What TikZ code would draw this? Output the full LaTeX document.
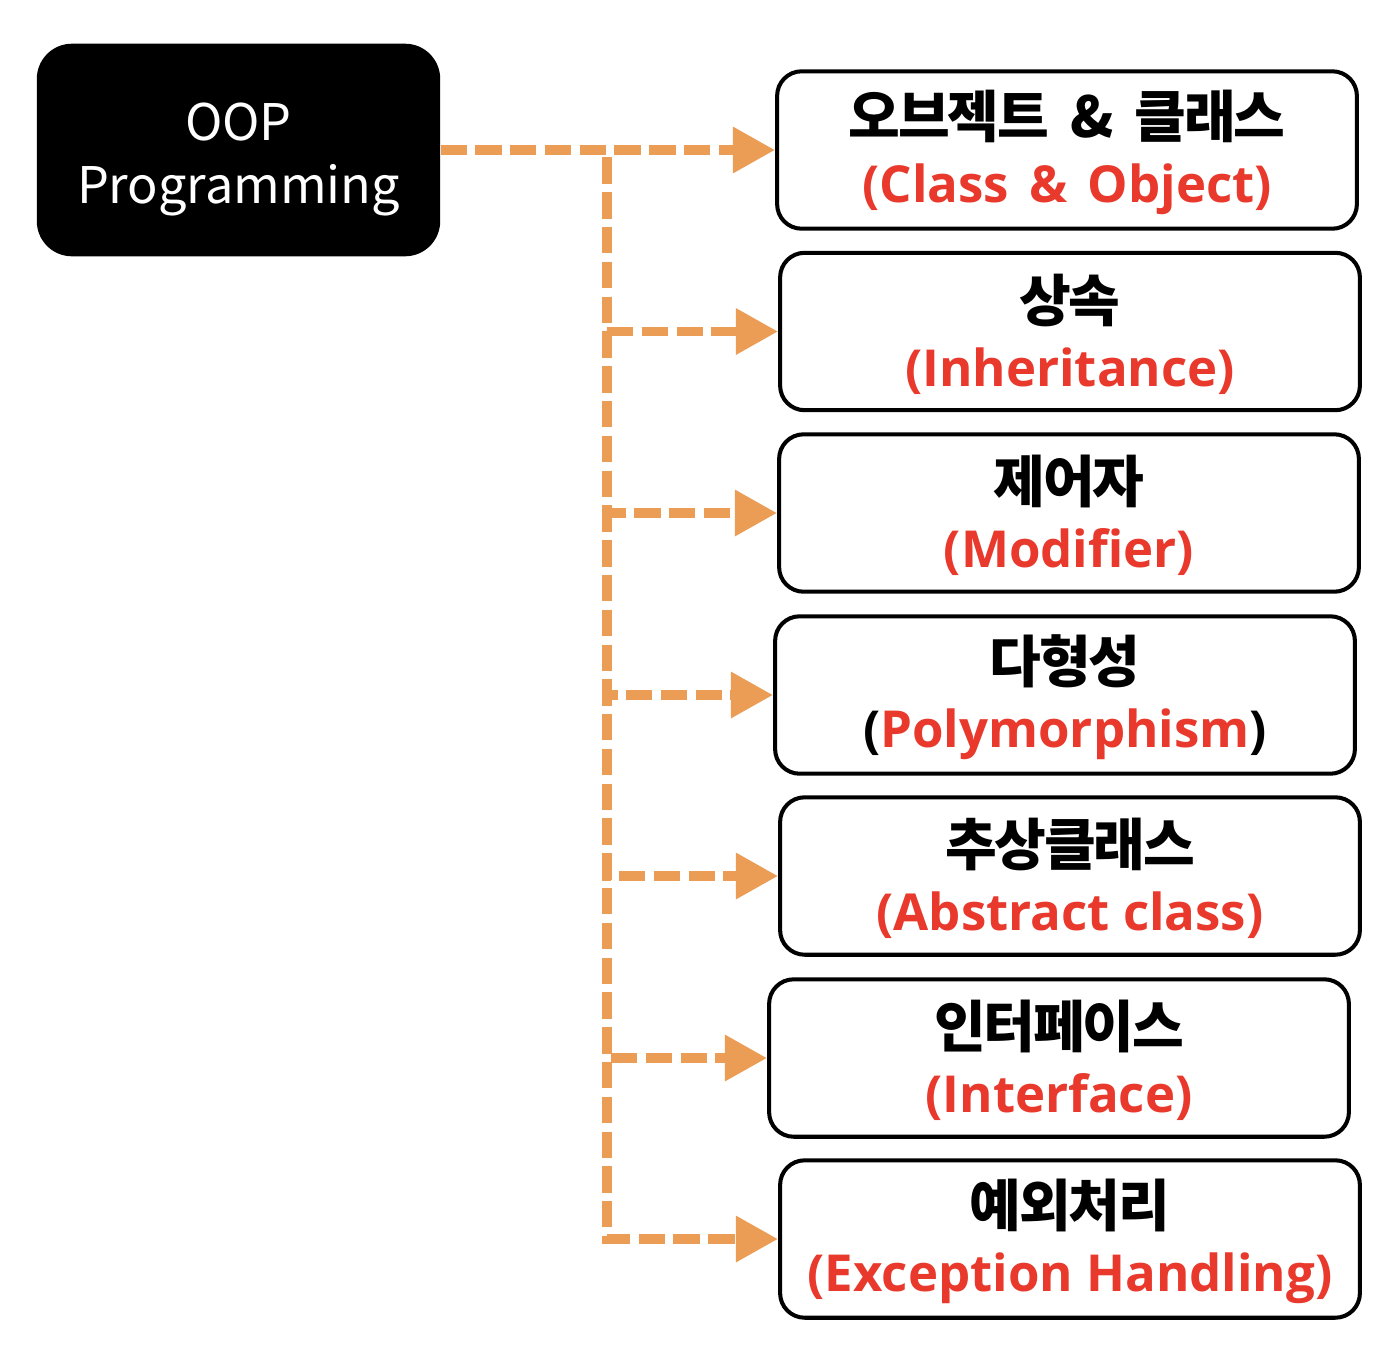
\documentclass[tikz,border=0pt]{standalone}
\usepackage{fontspec}
\newfontfamily\kr{Noto Sans CJK KR}
\newfontfamily\krs{Noto Sans CJK KR}[LetterSpace=-4]
\newfontfamily\lat{Open Sans}
\usetikzlibrary{arrows.meta}
\definecolor{arrowc}{HTML}{EB9C55}
\definecolor{redc}{HTML}{E8392C}
\newcommand{\kline}[1]{{\krs\bfseries\fontsize{32pt}{37pt}\selectfont\rule{0pt}{30pt}#1}}
\newcommand{\eline}[1]{{\lat\bfseries\fontsize{29pt}{37pt}\selectfont\color{redc}#1}}
\newcommand{\gap}{\hspace{12pt}}
\tikzset{
  topic/.style={draw=black, line width=2.3pt, rounded corners=14pt, fill=white,
    minimum width=330pt, minimum height=89.6pt, inner sep=0pt, align=center,
    font=\fontsize{29pt}{37pt}\selectfont},
  oopbox/.style={fill=black, rounded corners=20pt, minimum width=229.6pt,
    minimum height=121pt, inner sep=0pt, align=center, text=white,
    font=\kr\fontsize{28.7pt}{35.7pt}\selectfont},
  conn/.style={draw=arrowc, line width=5.5pt, dash pattern=on 15pt off 4.8pt,
    -{Triangle[length=24pt,width=25pt]}},
}
\begin{document}
\begin{tikzpicture}[x=0.02cm,y=-0.02cm]
\useasboundingbox (0,0) rectangle (1388,1356);
\node[oopbox] (oop) at (238.5,150) {\rule{0pt}{32pt}OOP\\Programming};
\node[topic] (b1) at (1067,150) {\kline{오브젝트\gap\&\gap 클래스}\\\eline{(Class\hspace{4pt} \&\hspace{4pt} Object)}};
\node[topic] (b2) at (1070,331.5) {\kline{상속}\\\eline{(Inheritance)}};
\node[topic] (b3) at (1069,513) {\kline{제어자}\\\eline{(Modifier)}};
\node[topic] (b4) at (1065,695) {\kline{다형성}\\\eline{{\color{black}(}Polymorphism{\color{black})}}};
\node[topic] (b5) at (1070,876) {\kline{추상클래스}\\\eline{(Abstract class)}};
\node[topic] (b6) at (1059,1058) {\kline{인터페이스}\\\eline{(Interface)}};
\node[topic] (b7) at (1070,1239) {\kline{예외처리}\\\eline{(Exception Handling)}};
\coordinate (t) at (607,150);
\draw[conn] (oop.east) -- (b1.west);
\draw[conn] (oop.east) -- (t) |- (b2.west);
\draw[conn] (oop.east) -- (t) |- (b3.west);
\draw[conn] (oop.east) -- (t) |- (b4.west);
\draw[conn] (oop.east) -- (t) |- (b5.west);
\draw[conn] (oop.east) -- (t) |- (b6.west);
\draw[conn] (oop.east) -- (t) |- (b7.west);
\end{tikzpicture}
\end{document}
